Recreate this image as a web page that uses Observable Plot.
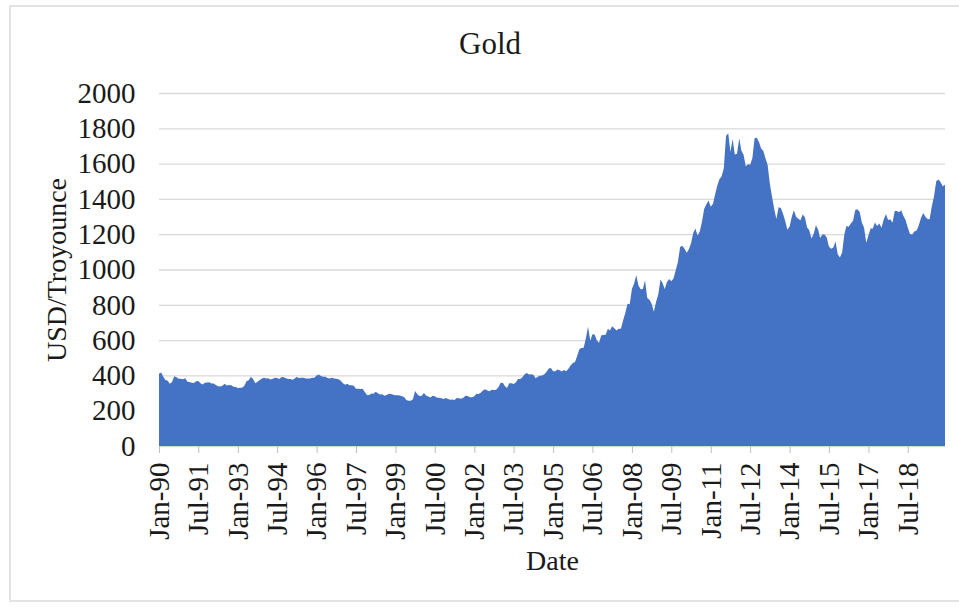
<!DOCTYPE html>
<html>
<head>
<meta charset="utf-8">
<script src="https://cdn.jsdelivr.net/npm/d3@7"></script>
<script src="https://cdn.jsdelivr.net/npm/@observablehq/plot@0.6"></script>
<style>
  html, body { margin: 0; padding: 0; background: #fff; overflow: hidden; }
  body { width: 959px; height: 607px; position: relative; font-family: "Liberation Serif", "Times New Roman", serif; }
  #frame { position: absolute; left: 9px; top: 5px; width: 980px; height: 597px; border: 2px solid #e3e3e3; box-sizing: border-box; }
  #title { position: absolute; left: 0; top: 24px; width: 980px; text-align: center; font-size: 31px; line-height: 40px; color: #1a1a1a; font-family: "Liberation Serif", serif; }
  #chart { position: absolute; left: 0; top: 75px; }
  svg text { font-family: "Liberation Serif", "Times New Roman", serif; }
</style>
</head>
<body>
<div id="frame"></div>
<div id="title">Gold</div>
<div id="chart"></div>
<script>
const chartTitle = "Gold";
const yLabel = "USD/Troyounce";
const xLabel = "Date";
const startYear = 1990;
// monthly gold price (USD / troy ounce), Jan 1990 – Dec 2019, one row per year
const goldPrices = [
  410, 417, 393, 374, 369, 352, 362, 395, 389, 381, 381, 378,
  384, 364, 363, 358, 357, 367, 368, 356, 349, 359, 360, 361,
  354, 354, 345, 338, 337, 341, 353, 343, 345, 344, 335, 334,
  329, 330, 330, 342, 367, 372, 392, 379, 355, 364, 374, 383,
  387, 382, 384, 377, 381, 386, 385, 380, 391, 389, 384, 379,
  379, 376, 382, 391, 385, 387, 386, 383, 383, 383, 386, 387,
  400, 405, 396, 393, 392, 385, 383, 387, 383, 381, 378, 369,
  355, 347, 352, 344, 344, 341, 324, 324, 323, 325, 306, 289,
  289, 297, 296, 308, 299, 292, 293, 284, 289, 296, 294, 291,
  287, 287, 286, 282, 277, 261, 256, 257, 265, 311, 293, 283,
  284, 300, 286, 280, 275, 285, 282, 274, 273, 270, 266, 272,
  266, 262, 263, 261, 272, 270, 268, 273, 284, 283, 276, 276,
  282, 296, 294, 302, 314, 322, 314, 310, 319, 317, 319, 333,
  357, 359, 340, 328, 355, 356, 351, 360, 379, 379, 389, 407,
  414, 405, 406, 404, 384, 392, 398, 400, 406, 420, 439, 442,
  424, 423, 434, 429, 422, 430, 424, 437, 456, 470, 476, 510,
  549, 555, 557, 610, 676, 596, 633, 632, 598, 585, 627, 629,
  631, 665, 655, 679, 667, 655, 665, 665, 712, 754, 806, 803,
  889, 922, 968, 909, 888, 889, 939, 839, 829, 806, 760, 816,
  858, 943, 924, 890, 928, 946, 934, 949, 996, 1043, 1127, 1134,
  1118, 1095, 1113, 1148, 1205, 1232, 1193, 1215, 1271, 1343, 1370, 1391,
  1356, 1372, 1424, 1474, 1512, 1529, 1573, 1756, 1772, 1666, 1739, 1652,
  1656, 1743, 1674, 1650, 1585, 1596, 1594, 1630, 1744, 1747, 1722, 1685,
  1671, 1628, 1593, 1487, 1414, 1343, 1286, 1352, 1348, 1316, 1275, 1225,
  1244, 1300, 1336, 1299, 1287, 1279, 1311, 1296, 1238, 1222, 1176, 1201,
  1251, 1227, 1179, 1198, 1199, 1181, 1131, 1117, 1125, 1159, 1086, 1068,
  1097, 1200, 1246, 1242, 1260, 1276, 1337, 1341, 1326, 1267, 1236, 1152,
  1192, 1234, 1231, 1266, 1246, 1260, 1236, 1283, 1315, 1280, 1284, 1265,
  1331, 1331, 1325, 1335, 1304, 1281, 1238, 1201, 1198, 1215, 1221, 1250,
  1292, 1320, 1300, 1286, 1284, 1359, 1413, 1500, 1510, 1495, 1471, 1480
];
const xTickLabels = ["Jan-90","Jul-91","Jan-93","Jul-94","Jan-96","Jul-97","Jan-99","Jul-00","Jan-02","Jul-03",
                     "Jan-05","Jul-06","Jan-08","Jul-09","Jan-11","Jul-12","Jan-14","Jul-15","Jan-17","Jul-18"];
const yTicks = [0, 200, 400, 600, 800, 1000, 1200, 1400, 1600, 1800, 2000];

document.getElementById("title").textContent = chartTitle;

const data = goldPrices.map((v, i) => ({date: new Date(Date.UTC(startYear + Math.floor(i / 12), i % 12, 1)), value: v}));
const parse = d3.utcParse("%b-%y");
const fmt = d3.utcFormat("%b-%y");
const xTicks = xTickLabels.map(parse);

const chart = Plot.plot({
  width: 959,
  height: 532,
  marginTop: 18,
  marginBottom: 161,
  marginLeft: 159,
  marginRight: 14,
  style: {fontFamily: "Liberation Serif, Times New Roman, serif", background: "transparent", color: "#1a1a1a"},
  x: {type: "utc", domain: [data[0].date, data[data.length - 1].date]},
  y: {domain: [0, 2000]},
  marks: [
    Plot.gridY(yTicks, {stroke: "#d9d9d9", strokeOpacity: 1, strokeWidth: 1.3}),
    Plot.ruleY([0], {stroke: "#d9d9d9"}),
    Plot.areaY(data, {x: "date", y: "value", fill: "#4472C4"}),
    Plot.axisY({ticks: yTicks, tickFormat: d => String(d), tickSize: 0, tickPadding: 24, fontSize: 29, label: null}),
    Plot.axisX({ticks: xTicks, tickFormat: fmt, tickRotate: -90, tickSize: 7, tickPadding: 9,
                stroke: "#bfbfbf", fontSize: 29, label: null}),
    Plot.text([yLabel], {frameAnchor: "left", textAnchor: "middle", dx: -102, rotate: -90, fontSize: 28, fill: "#1a1a1a"}),
    Plot.text([xLabel], {frameAnchor: "bottom", dy: 123, fontSize: 28, fill: "#1a1a1a"})
  ]
});
document.getElementById("chart").appendChild(chart);
</script>
</body>
</html>
